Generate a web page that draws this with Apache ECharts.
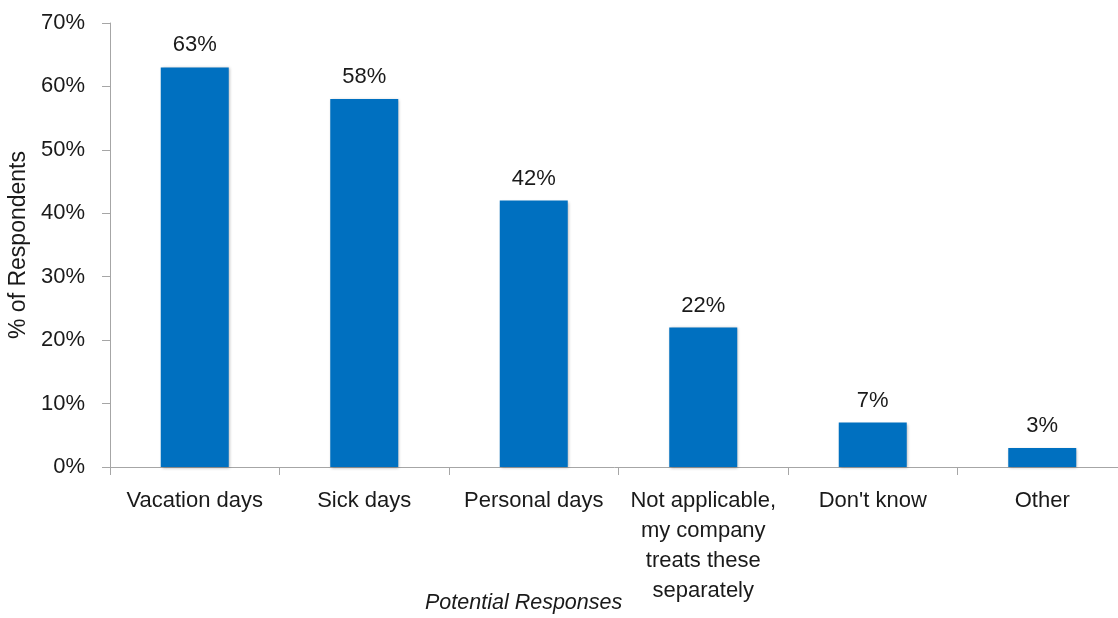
<!DOCTYPE html>
<html><head><meta charset="utf-8">
<script src="https://cdn.jsdelivr.net/npm/echarts@6/dist/echarts.min.js"></script>
<style>html,body{margin:0;padding:0;background:#fff}#c{width:1118px;height:618px}</style>
</head><body><div id="c"></div>
<script>
const categories = ['Vacation days', 'Sick days', 'Personal days', 'Not applicable,\nmy company\ntreats these\nseparately', "Don't know", 'Other'];
const values = [63, 58, 42, 22, 7, 3];
const yTicks = { min: 0, max: 70, interval: 10 };
const yName = '% of Respondents';
const xName = 'Potential Responses';

const FONT = '"Liberation Sans Narrow", "Arial Narrow", "Liberation Sans", sans-serif';
const chart = echarts.init(document.getElementById('c'), null, { renderer: 'canvas' });
chart.setOption({
  animation: false,
  textStyle: { fontFamily: FONT },
  grid: { left: 110, top: 23, width: 1017, height: 444, outerBoundsMode: 'none', containLabel: false },
  xAxis: {
    type: 'category',
    data: categories,
    axisLine: { lineStyle: { color: '#A6A6A6', width: 1 } },
    axisTick: { show: true, length: 8, lineStyle: { color: '#A6A6A6' } },
    axisLabel: { interval: 0, color: '#1a1a1a', fontSize: 22, fontFamily: FONT, lineHeight: 30, margin: 19 }
  },
  yAxis: {
    type: 'value',
    min: yTicks.min, max: yTicks.max, interval: yTicks.interval,
    name: yName, nameLocation: 'middle', nameGap: 72,
    nameTextStyle: { color: '#1a1a1a', fontSize: 23, fontFamily: FONT },
    axisLine: { show: true, lineStyle: { color: '#A6A6A6', width: 1 } },
    axisTick: { show: true, length: 8, lineStyle: { color: '#A6A6A6' } },
    splitLine: { show: false },
    axisLabel: { formatter: '{value}%', color: '#1a1a1a', fontSize: 22, fontFamily: FONT, margin: 25 }
  },
  graphic: [{
    type: 'text', left: 425, top: 592,
    style: { text: xName, fontSize: 21.5, fontStyle: 'italic', fontFamily: FONT, fill: '#1a1a1a' }
  }],
  series: [{
    type: 'bar',
    data: values,
    barWidth: 68,
    itemStyle: { color: '#0070C0', shadowColor: 'rgba(0,0,0,0.3)', shadowBlur: 3, shadowOffsetX: 1, shadowOffsetY: 1 },
    label: { show: true, position: 'top', distance: 11, formatter: '{c}%', color: '#1a1a1a', fontSize: 22, fontFamily: FONT }
  }]
});
</script></body></html>
